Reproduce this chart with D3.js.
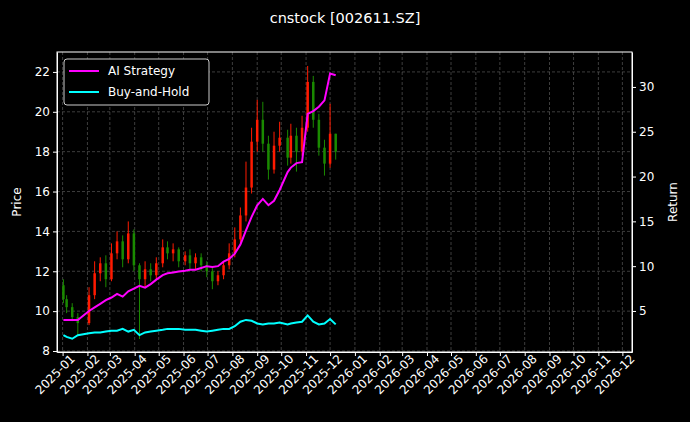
<!DOCTYPE html>
<html><head><meta charset="utf-8">
<script src="https://cdn.jsdelivr.net/npm/d3@7"></script>
<style>body{margin:0;background:#000}text{font-family:"DejaVu Sans",sans-serif}</style>
</head><body><svg id="c" width="690" height="422"></svg>
<script>
// weekly candles
const weeks = ["2025-01-02","2025-01-06","2025-01-13","2025-01-20","2025-02-03","2025-02-10","2025-02-17","2025-02-24",
  "2025-03-03","2025-03-10","2025-03-17","2025-03-24","2025-03-31","2025-04-07","2025-04-14","2025-04-21","2025-04-28",
  "2025-05-06","2025-05-12","2025-05-19","2025-05-26","2025-06-03","2025-06-09","2025-06-16","2025-06-23","2025-06-30",
  "2025-07-07","2025-07-14","2025-07-21","2025-07-28","2025-08-04","2025-08-11","2025-08-18","2025-08-25","2025-09-01",
  "2025-09-08","2025-09-15","2025-09-22","2025-09-29","2025-10-09","2025-10-13","2025-10-20","2025-10-27","2025-11-03",
  "2025-11-10","2025-11-17","2025-11-24","2025-12-01","2025-12-08"];
const open  = [11.3,10.6,10.2,9.7,9.4,10.8,11.9,12.4,11.6,12.9,13.5,12.6,13.9,12.3,11.6,12.1,11.8,12.4,13.2,12.9,13.1,12.5,12.8,12.4,12.7,12.3,12.0,11.5,11.8,12.3,12.9,13.6,14.8,16.2,18.5,19.6,18.4,17.1,18.3,18.7,17.7,18.8,18.0,19.2,21.5,19.6,18.2,17.4,18.9];
const close = [10.6,10.2,9.7,9.4,10.8,11.9,12.4,11.6,12.9,13.5,12.6,13.9,12.3,11.6,12.1,11.8,12.4,13.2,12.9,13.1,12.5,12.8,12.4,12.7,12.3,12.0,11.5,11.8,12.3,12.9,13.6,14.8,16.2,18.5,19.6,18.4,17.1,18.3,18.7,17.7,18.8,18.0,19.2,21.5,19.6,18.2,17.4,18.9,18.0];
const high  = [11.6,10.8,10.4,9.9,11.2,12.5,12.7,12.8,13.4,14.0,13.8,14.5,14.1,12.4,12.5,12.4,12.7,13.6,13.5,13.4,13.2,13.0,13.1,12.9,12.9,12.5,12.2,12.0,12.5,13.4,14.2,15.2,17.5,19.2,20.6,20.5,18.8,19.0,19.5,19.1,19.4,19.2,19.8,22.3,21.8,19.9,18.6,20.4,18.9];
const low   = [10.4,9.9,9.5,8.8,9.3,10.6,11.5,11.2,11.5,12.6,12.2,12.4,12.0,8.6,11.2,11.5,11.6,12.2,12.6,12.5,12.2,12.3,12.1,12.1,12.0,11.7,11.1,11.3,11.6,12.1,12.7,13.4,14.5,15.9,18.0,18.0,16.6,16.9,18.0,17.3,17.4,17.0,17.8,19.0,19.2,17.8,16.8,17.2,17.6];
const aiReturn = [4.0,4.0,4.0,4.0,5.0,5.4,5.8,6.2,6.5,6.9,6.6,7.2,7.5,7.8,7.6,8.0,8.5,9.0,9.2,9.3,9.4,9.5,9.6,9.6,9.8,10.0,9.9,10.0,10.5,10.8,11.4,12.4,14.0,15.5,16.8,17.5,16.8,17.3,18.5,20.5,21.0,21.5,21.6,27.0,27.3,27.8,28.5,31.5,31.3];
const bhReturn = [2.3,2.1,1.9,2.3,2.5,2.6,2.6,2.7,2.8,2.8,3.0,2.7,2.9,2.3,2.6,2.7,2.8,2.9,3.0,3.0,3.0,2.9,2.9,2.9,2.8,2.7,2.8,2.9,3.0,3.0,3.3,3.8,4.0,3.9,3.6,3.5,3.6,3.6,3.7,3.5,3.6,3.7,3.8,4.5,3.8,3.5,3.6,4.1,3.5];
const priceTicks = [8,10,12,14,16,18,20,22];
const returnTicks = [5,10,15,20,25,30];

const parse = d3.timeParse("%Y-%m-%d");
const dates = weeks.map(parse);
const m = {left:57, right:632, top:52, bottom:352};
const svg = d3.select("#c");
svg.append("rect").attr("width",690).attr("height",422).attr("fill","#000");

const x = d3.scaleTime().domain([new Date(2024,11,25), new Date(2026,11,13)]).range([m.left, m.right]);
const y = d3.scaleLinear().domain([7.95, 23.0]).range([m.bottom, m.top]);
const y2 = d3.scaleLinear().domain([0.42, 33.9]).range([m.bottom, m.top]);
const months = d3.timeMonth.range(new Date(2025,0,1), new Date(2027,0,1));

// grid
const g = svg.append("g").attr("stroke","#666").attr("stroke-dasharray","3,2").attr("stroke-width",0.6);
months.forEach(d => g.append("line").attr("x1",x(d)).attr("x2",x(d)).attr("y1",m.top).attr("y2",m.bottom));
priceTicks.forEach(v => g.append("line").attr("x1",m.left).attr("x2",m.right).attr("y1",y(v)).attr("y2",y(v)));

// candles
const cw = 2.5;
svg.append("g").selectAll("g").data(dates).join("g").each(function(d,i){
  const col = close[i] >= open[i] ? "#ff1a00" : "#1a8a00";
  const s = d3.select(this);
  s.append("line").attr("x1",x(d)).attr("x2",x(d)).attr("y1",y(high[i])).attr("y2",y(low[i])).attr("stroke",col).attr("stroke-width",1);
  s.append("rect").attr("x",x(d)-cw/2).attr("width",cw)
    .attr("y",y(Math.max(open[i],close[i]))).attr("height",Math.max(1,Math.abs(y(open[i])-y(close[i])))).attr("fill",col);
});

// return lines
const line = vals => d3.line().x((d,i)=>x(dates[i])).y(d=>y2(d))(vals);
svg.append("path").attr("d",line(bhReturn)).attr("fill","none").attr("stroke","#00ffff").attr("stroke-width",2);
svg.append("path").attr("d",line(aiReturn)).attr("fill","none").attr("stroke","#ff00ff").attr("stroke-width",2);

// axes
const style = sel => { sel.selectAll("path,line").attr("stroke","#fff"); sel.selectAll("text").attr("fill","#fff").attr("font-size",12); };
svg.append("g").attr("transform",`translate(${m.left},0)`).call(d3.axisLeft(y).tickValues(priceTicks).tickSize(4).tickSizeOuter(0)).call(style);
svg.append("g").attr("transform",`translate(${m.right},0)`).call(d3.axisRight(y2).tickValues(returnTicks).tickSize(4).tickSizeOuter(0)).call(style);
const xa = svg.append("g").attr("transform",`translate(0,${m.bottom})`)
  .call(d3.axisBottom(x).tickValues(months).tickFormat(d3.timeFormat("%Y-%m")).tickSize(4).tickSizeOuter(0)).call(style);
xa.selectAll("text").attr("text-anchor","end").attr("dx","0.3em").attr("dy","0.6em").attr("transform","rotate(-45)");
svg.append("rect").attr("x",m.left).attr("y",m.top).attr("width",m.right-m.left).attr("height",m.bottom-m.top)
  .attr("fill","none").attr("stroke","#fff").attr("stroke-width",1);

// labels
svg.append("text").attr("x",345).attr("y",23).attr("text-anchor","middle").attr("fill","#fff").attr("font-size",14.5).text("cnstock [002611.SZ]");
svg.append("text").attr("transform","translate(21,202) rotate(-90)").attr("text-anchor","middle").attr("fill","#fff").attr("font-size",12).text("Price");
svg.append("text").attr("transform","translate(677,202) rotate(-90)").attr("text-anchor","middle").attr("fill","#fff").attr("font-size",12).text("Return");

// legend
const lg = svg.append("g").attr("transform","translate(64,59)");
lg.append("rect").attr("width",145).attr("height",46).attr("rx",3).attr("fill","#000").attr("stroke","#ccc");
[["AI Strategy","#ff00ff"],["Buy-and-Hold","#00ffff"]].forEach(([t,c],i)=>{
  lg.append("line").attr("x1",5).attr("x2",35).attr("y1",12+i*21).attr("y2",12+i*21).attr("stroke",c).attr("stroke-width",2);
  lg.append("text").attr("x",44).attr("y",16+i*21).attr("fill","#fff").attr("font-size",12).text(t);
});
</script></body></html>
